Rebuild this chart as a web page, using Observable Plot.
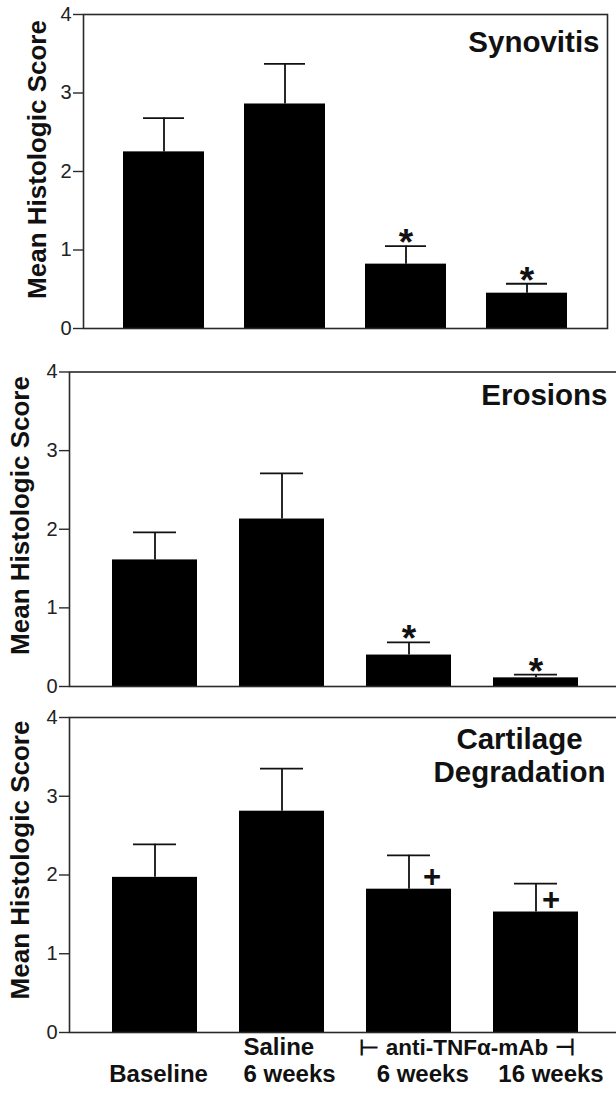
<!DOCTYPE html>
<html><head><meta charset="utf-8">
<script src="https://cdn.jsdelivr.net/npm/d3@7"></script>
<script src="https://cdn.jsdelivr.net/npm/@observablehq/plot@0.6"></script>
<style>
html,body{margin:0;padding:0;background:#fff;overflow:hidden;}
#wrap{position:relative;width:616px;height:1096px;overflow:hidden;background:#fff;}
.panel{position:absolute;left:0;}
</style></head><body><div id="wrap"></div>
<script>
// ---- data ----
const categories = ["Baseline", "Saline 6 weeks", "anti-TNFα-mAb 6 weeks", "anti-TNFα-mAb 16 weeks"];
const panelTitles = [["Synovitis"], ["Erosions"], ["Cartilage", "Degradation"]];
const synovitisMean  = [2.25, 2.86, 0.82, 0.45];
const synovitisUpper = [2.68, 3.37, 1.05, 0.57];
const erosionsMean   = [1.61, 2.13, 0.40, 0.11];
const erosionsUpper  = [1.96, 2.71, 0.56, 0.15];
const cartilageMean  = [1.97, 2.81, 1.82, 1.53];
const cartilageUpper = [2.39, 3.35, 2.25, 1.89];
const synovitisSig = ["", "", "*", "*"];
const erosionsSig  = ["", "", "*", "*"];
const cartilageSig = ["", "", "+", "+"];
const yTicks = [0, 1, 2, 3, 4];
const yLabel = "Mean Histologic Score";
const xLabelLine1 = ["", "Saline", "", ""];
const xLabelLine2 = ["Baseline", "6 weeks", "6 weeks", "16 weeks"];
const treatmentLabel = "⊢ anti-TNFα-mAb ⊣";

// ---- layout / style ----
const font = '"Liberation Sans", Arial, Helvetica, sans-serif';
const ink = "#111";
const axisInk = "#2a2a2a";
const tickFont = 20;
const tickLen = 10;
const panels = [
  {mean: synovitisMean, upper: synovitisUpper, sig: synovitisSig, title: panelTitles[0],
   top: 0, width: 616, height: 345, mt: 14, mb: 17, ml: 83, mr: 9, pi: 0.331, po: 0.326, cap: 20,
   labelD: [-46, -12], titleOpt: {textAnchor: "end", dx: -8, dy: 37}},
  {mean: erosionsMean, upper: erosionsUpper, sig: erosionsSig, title: panelTitles[1],
   top: 345, width: 621, height: 355, mt: 26.5, mb: 14, ml: 69, mr: 0, pi: 0.33, po: 0.33, cap: 21,
   labelD: [-49, -13.75], titleOpt: {textAnchor: "end", dx: -14, dy: 32.5}},
  {mean: cartilageMean, upper: cartilageUpper, sig: cartilageSig, title: panelTitles[2],
   top: 700, width: 621, height: 396, mt: 17, mb: 64, ml: 69, mr: 0, pi: 0.33, po: 0.33, cap: 21,
   labelD: [-49, -15], titleOpt: {textAnchor: "middle", dx: -102, dy: 64.7, lineHeight: 1.13}, xLabels: true}
];
const plusDx = [0, 0, 23, 15];
const line2Dx = [3.6, -38.5, 13.7, 15];
const line2Anchor = ["middle", "start", "middle", "middle"];

const wrap = document.getElementById("wrap");

panels.forEach(p => {
  const frameW = p.width - p.ml - p.mr;
  const rows = categories.map((c, i) => ({cat: c, i, mean: p.mean[i], upper: p.upper[i], sig: p.sig[i]}));
  const marks = [
    Plot.barY(rows, {x: "cat", y: "mean", fill: "#000"}),
    Plot.ruleX(rows, {x: "cat", y1: "mean", y2: "upper", stroke: ink, strokeWidth: 1.8}),
    Plot.tickY(rows, {x: "cat", y: "upper", stroke: ink, strokeWidth: 1.8, insetLeft: p.cap, insetRight: p.cap}),
    Plot.frame({stroke: axisInk, strokeWidth: 1.6}),
    // y axis ticks and labels
    Plot.ruleY(yTicks, {y: d => d, stroke: axisInk, strokeWidth: 1.4, insetLeft: -tickLen, insetRight: frameW}),
    Plot.text(yTicks, {y: d => d, frameAnchor: "left", text: d => String(d), textAnchor: "end", lineAnchor: "middle",
      dx: -(tickLen + 2), fontSize: tickFont, fill: "#222", fontFamily: font}),
    Plot.text([yLabel], {frameAnchor: "left", text: d => d, rotate: -90, textAnchor: "middle", lineAnchor: "middle",
      dx: p.labelD[0], dy: p.labelD[1], fontSize: 26, fontWeight: "bold", fill: ink, fontFamily: font}),
    Plot.text([p.title.join("\n")], {frameAnchor: "top-right", text: d => d, lineAnchor: "bottom",
      fontSize: 29.5, fontWeight: "bold", fill: ink, fontFamily: font, ...p.titleOpt})
  ];
  rows.filter(d => d.sig === "*").forEach(d => {
    marks.push(Plot.text([d], {x: "cat", y: "upper", text: "sig", lineAnchor: "bottom", dy: 9,
      fontSize: 37, fontWeight: "bold", fill: ink, fontFamily: font}));
  });
  rows.filter(d => d.sig === "+").forEach(d => {
    marks.push(Plot.text([d], {x: "cat", y: "mean", text: "sig", lineAnchor: "bottom", dy: -2.5, dx: plusDx[d.i],
      fontSize: 31, fontWeight: "bold", fill: ink, fontFamily: font}));
  });
  if (p.xLabels) {
    rows.forEach(d => {
      if (xLabelLine1[d.i]) marks.push(Plot.text([d], {x: "cat", frameAnchor: "bottom", text: () => xLabelLine1[d.i],
        lineAnchor: "bottom", dy: 22.5, dx: line2Dx[d.i], textAnchor: line2Anchor[d.i],
        fontSize: 24, fontWeight: "bold", fill: ink, fontFamily: font}));
      marks.push(Plot.text([d], {x: "cat", frameAnchor: "bottom", text: () => xLabelLine2[d.i],
        lineAnchor: "bottom", dy: 49.5, dx: line2Dx[d.i], textAnchor: line2Anchor[d.i],
        fontSize: 24, fontWeight: "bold", fill: ink, fontFamily: font}));
    });
    marks.push(Plot.text([rows[2]], {x: "cat", frameAnchor: "bottom", text: () => treatmentLabel,
      lineAnchor: "bottom", dy: 22.5, dx: 58, textAnchor: "middle",
      fontSize: 22.5, fontWeight: "bold", fill: ink, fontFamily: font}));
  }
  const chart = Plot.plot({
    width: p.width, height: p.height,
    marginTop: p.mt, marginBottom: p.mb, marginLeft: p.ml, marginRight: p.mr,
    style: {fontFamily: font, background: "#fff", maxWidth: "none", overflow: "visible"},
    x: {type: "band", domain: categories, paddingInner: p.pi, paddingOuter: p.po, axis: null},
    y: {domain: [0, 4], axis: null},
    marks
  });
  const div = document.createElement("div");
  div.className = "panel";
  div.style.top = p.top + "px";
  div.style.width = p.width + "px";
  div.appendChild(chart);
  wrap.appendChild(div);
});
</script></body></html>
